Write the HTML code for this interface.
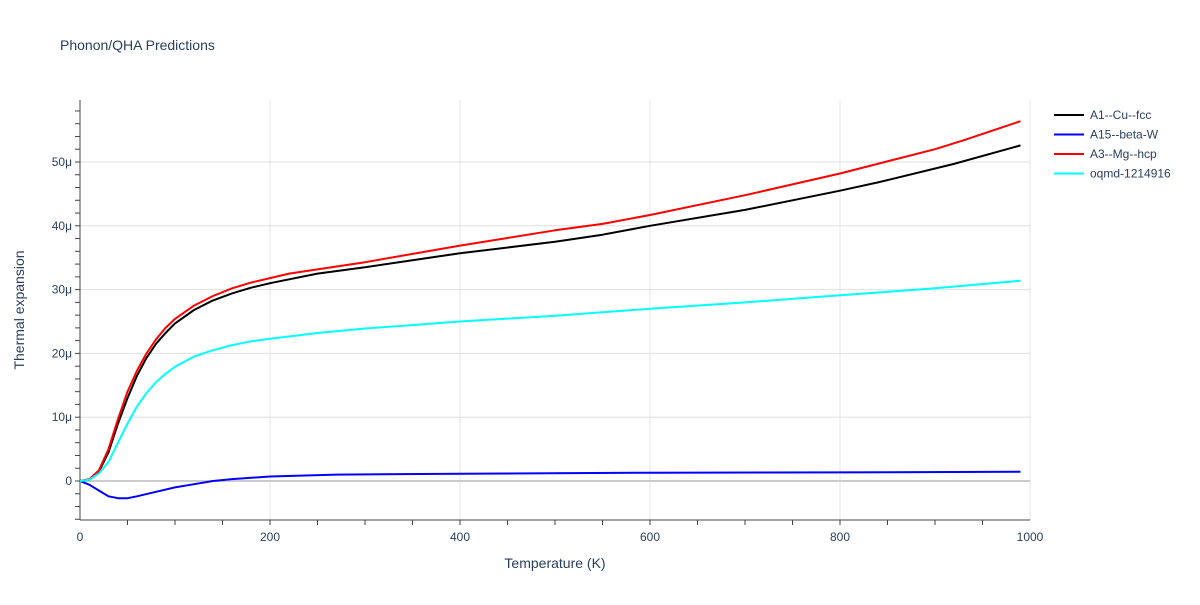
<!DOCTYPE html>
<html><head><meta charset="utf-8"><style>
body{margin:0;background:#fff;font-family:"Liberation Sans",sans-serif;}
svg text{font-family:"Liberation Sans",sans-serif;fill:#2a3f5f;}
</style></head><body>
<svg id="chart" width="1200" height="600" xmlns="http://www.w3.org/2000/svg">
<rect width="1200" height="600" fill="#fff"/>
<text x="60" y="50" font-size="14">Phonon/QHA Predictions</text>
<g id="grid"></g>
<g id="axes"></g>
<g id="series"></g>
<text x="555" y="568" font-size="14" text-anchor="middle">Temperature (K)</text>
<text transform="translate(24,310) rotate(-90)" font-size="14" text-anchor="middle">Thermal expansion</text>
<g id="legend"></g>
</svg>
<script>
const xTicks=[0,200,400,600,800,1000];
const yTicks=[0,10,20,30,40,50];
const seriesNames=["A1--Cu--fcc","A15--beta-W","A3--Mg--hcp","oqmd-1214916"];
const seriesColors=["#000000","#0000ff","#ff0000","#00ffff"];
const cuT=[0,10,20,30,40,50,60,70,80,90,100,120,140,160,180,200,250,300,400,500,550,600,700,800,840,920,990];
const cuV=[0,0.2,1.5,4.5,9,13,16.5,19.3,21.5,23.2,24.7,26.8,28.3,29.4,30.3,31,32.5,33.5,35.7,37.5,38.6,40,42.5,45.5,46.8,49.7,52.6];
const wT=[0,10,20,30,40,50,60,80,100,120,140,160,200,270,400,600,800,990];
const wV=[0,-0.6,-1.5,-2.4,-2.7,-2.7,-2.4,-1.7,-1,-0.5,0,0.3,0.7,1,1.15,1.3,1.35,1.45];
const mgT=[0,10,20,30,40,50,60,70,80,90,100,120,140,160,180,200,220,300,400,500,550,600,700,800,900,930,990];
const mgV=[0,0.3,1.7,5,9.7,14,17.3,20,22.2,24,25.4,27.5,29,30.2,31.1,31.8,32.5,34.3,36.9,39.3,40.3,41.7,44.8,48.2,52,53.4,56.4];
const oqT=[0,10,20,30,40,50,60,70,80,90,100,120,140,160,180,200,250,300,400,500,600,700,800,900,990];
const oqV=[0,0.2,1.2,3,6,9,11.7,13.8,15.5,16.8,17.9,19.5,20.5,21.3,21.9,22.3,23.2,23.9,25,25.9,27,28,29.1,30.2,31.4];
const allT=[cuT,wT,mgT,oqT], allV=[cuV,wV,mgV,oqV];
const NS="http://www.w3.org/2000/svg";
const X=t=>80+t*0.95, Y=v=>481-v*6.38;
function mk(tag,attrs,parent){const e=document.createElementNS(NS,tag);for(const k in attrs)e.setAttribute(k,attrs[k]);parent.appendChild(e);return e;}
const grid=document.getElementById('grid'),axes=document.getElementById('axes'),ser=document.getElementById('series'),leg=document.getElementById('legend');
xTicks.forEach(t=>{
 if(t>0){const l=mk('line',{x1:X(t),x2:X(t),y1:100,y2:520,stroke:'#e5e5e5','stroke-width':1},grid);
 
 }
 const tx=mk('text',{x:X(t),y:541,'font-size':12,'text-anchor':'middle'},axes);tx.textContent=t;
 
 
});
for(let t=50;t<1000;t+=50){const m=mk('line',{x1:X(t),x2:X(t),y1:520,y2:525,stroke:'#444'},axes);
 
 }
for(let v=-6;v<=58;v+=2){const m=mk('line',{x1:75,x2:80,y1:Y(v),y2:Y(v),stroke:'#444'},axes);
 
 }
yTicks.forEach(v=>{
 const l=mk('line',{x1:80,x2:1030,y1:Y(v),y2:Y(v),stroke:v===0?'#cccccc':'#e0e0e0','stroke-width':v===0?2:1},grid);
 
 
 const tx=mk('text',{x:72,y:Y(v)+4,'font-size':12,'text-anchor':'end'},axes);tx.textContent=v===0?'0':v+'μ';
 
 
});
const ax1=mk('line',{x1:80,x2:80,y1:100,y2:520,stroke:'#444'},axes);


const ax2=mk('line',{x1:80,x2:1030,y1:520,y2:520,stroke:'#444'},axes);


seriesNames.forEach((n,i)=>{
 const pts=allT[i].map((t,j)=>X(t).toFixed(1)+','+Y(allV[i][j]).toFixed(1)).join(' ');
 const p=mk('polyline',{points:pts,fill:'none',stroke:seriesColors[i],'stroke-width':2,'stroke-linejoin':'round'},ser);
 
 
 const y=115+i*19.5;
 const g=mk('g',{},leg);
 
 
 mk('line',{x1:1054,x2:1084,y1:y,y2:y,stroke:seriesColors[i],'stroke-width':2},g);
 const tx=mk('text',{x:1090,y:y+4,'font-size':12},g);tx.textContent=n;
});
</script>
</body></html>
